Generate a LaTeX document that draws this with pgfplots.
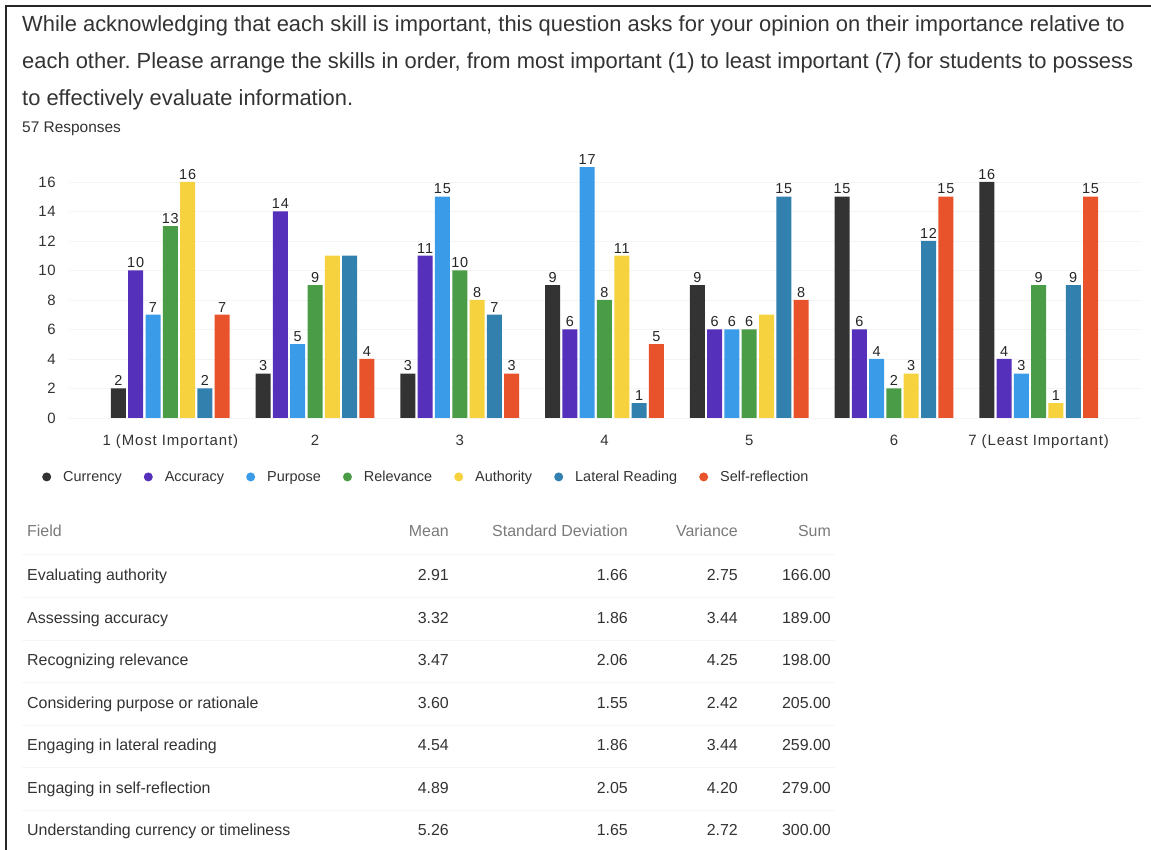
\documentclass[border=0pt]{standalone}
\usepackage{fontspec}
\setmainfont{Liberation Sans}
\newfontfamily\chartfont[LetterSpace=6]{Liberation Sans}
\usepackage{pgfplots}
\pgfplotsset{compat=1.18}
\definecolor{txt}{HTML}{333333}
\definecolor{hdr}{HTML}{7A7A7A}
\definecolor{cCur}{HTML}{333333}
\definecolor{cAcc}{HTML}{5530BA}
\definecolor{cPur}{HTML}{3A9BE8}
\definecolor{cRel}{HTML}{4B9C46}
\definecolor{cAut}{HTML}{F5D23E}
\definecolor{cLat}{HTML}{3280AE}
\definecolor{cSel}{HTML}{E8532B}
\protected\def\nolab{}
\frenchspacing
\begin{document}
\begin{tikzpicture}
\begin{scope}[x=1bp,y=1bp]
\useasboundingbox (0,0) rectangle (1151,850);
\fill[white] (0,0) rectangle (1151,850);
\draw[line width=2bp, black!85] (6,0) -- (6,844) -- (1151,844);
\begin{scope}[every node/.style={anchor=base west, inner sep=0, text=txt}]
\node[font=\fontsize{22}{23}\selectfont] at (22,818) {While acknowledging that each skill is important, this question asks for your opinion on their importance relative to};
\node[font=\fontsize{22}{23}\selectfont] at (22,781) {each other. Please arrange the skills in order, from most important (1) to least important (7) for students to possess};
\node[font=\fontsize{22}{23}\selectfont] at (22,744) {to effectively evaluate information.};
\node[font=\fontsize{15.5}{16}\selectfont] at (22,717) {57 Responses};
\end{scope}
% table
\foreach \yy in {296,253,210,168,125,83,40}{\draw[gray!7, line width=0.8bp] (22,\yy) -- (835,\yy);}
\begin{scope}[every node/.style={inner sep=0, font=\fontsize{16}{17}\selectfont}]
\node[anchor=base west, text=hdr] at (27,313) {Field};
\node[anchor=base east, text=hdr] at (449,313) {Mean};
\node[anchor=base east, text=hdr] at (628,313) {Standard Deviation};
\node[anchor=base east, text=hdr] at (738,313) {Variance};
\node[anchor=base east, text=hdr] at (831,313) {Sum};
\foreach \f/\m/\s/\v/\u [count=\i from 0] in {Evaluating authority/2.91/1.66/2.75/166.00,Assessing accuracy/3.32/1.86/3.44/189.00,Recognizing relevance/3.47/2.06/4.25/198.00,Considering purpose or rationale/3.60/1.55/2.42/205.00,Engaging in lateral reading/4.54/1.86/3.44/259.00,Engaging in self-reflection/4.89/2.05/4.20/279.00,Understanding currency or timeliness/5.26/1.65/2.72/300.00}{
\pgfmathsetmacro{\by}{269-42.5*\i}
\node[anchor=base west, text=txt] at (27,\by) {\f};
\node[anchor=base east, text=txt] at (449,\by) {\m};
\node[anchor=base east, text=txt] at (628,\by) {\s};
\node[anchor=base east, text=txt] at (738,\by) {\v};
\node[anchor=base east, text=txt] at (831,\by) {\u};
}
\end{scope}
\end{scope}
\begin{axis}[
  at={(69bp,432bp)}, anchor=south west,
  scale only axis, width=1071bp, height=265.5bp,
  xmin=-0.7, xmax=6.7, ymin=0, ymax=18,
  ybar=2.3bp, bar width=15bp,
  axis line style={draw=none}, major tick length=0pt,
  ytick={0,2,...,16}, xtick={0,...,6},
  xticklabels={1 (Most Important),2,3,4,5,6,7 (Least Important)},
  /pgf/number format/assume math mode=true,
  ymajorgrids, grid style={gray!9, line width=0.8bp},
  tick label style={font=\chartfont\fontsize{15}{16}\selectfont, text=txt},
  yticklabel style={inner sep=0pt, anchor=east, xshift=-13bp},
  xticklabel style={inner sep=0pt, anchor=base, yshift=-28bp},
  point meta=explicit symbolic,
  nodes near coords={\pgfplotspointmeta},
  nodes near coords style={font=\chartfont\fontsize{14.5}{15}\selectfont, text=black!85, anchor=south, inner sep=2.5bp},
  legend columns=7,
  legend style={at={(-0.028,-0.222)}, anchor=west, draw=none, fill=none,
    font=\fontsize{14.5}{15}\selectfont, text=txt,
    /tikz/every odd column/.append style={column sep=10bp},
    /tikz/every even column/.append style={column sep=20bp}},
  every axis plot post/.append style={draw=none,
    legend image code/.code={\fill[##1,draw=none] (0bp,0bp) circle (4.5bp);}},
]
\addplot[fill=cCur] coordinates {(0,2)[2] (1,3)[3] (2,3)[3] (3,9)[9] (4,9)[9] (5,15)[15] (6,16)[16]};
\addplot[fill=cAcc] coordinates {(0,10)[10] (1,14)[14] (2,11)[11] (3,6)[6] (4,6)[6] (5,6)[6] (6,4)[4]};
\addplot[fill=cPur] coordinates {(0,7)[7] (1,5)[5] (2,15)[15] (3,17)[17] (4,6)[6] (5,4)[4] (6,3)[3]};
\addplot[fill=cRel] coordinates {(0,13)[13] (1,9)[9] (2,10)[10] (3,8)[8] (4,6)[6] (5,2)[2] (6,9)[9]};
\addplot[fill=cAut] coordinates {(0,16)[16] (1,11)[\nolab] (2,8)[8] (3,11)[11] (4,7)[\nolab] (5,3)[3] (6,1)[1]};
\addplot[fill=cLat] coordinates {(0,2)[2] (1,11)[\nolab] (2,7)[7] (3,1)[1] (4,15)[15] (5,12)[12] (6,9)[9]};
\addplot[fill=cSel] coordinates {(0,7)[7] (1,4)[4] (2,3)[3] (3,5)[5] (4,8)[8] (5,15)[15] (6,15)[15]};
\legend{Currency,Accuracy,Purpose,Relevance,Authority,Lateral Reading,Self-reflection}
\end{axis}
\end{tikzpicture}
\end{document}
